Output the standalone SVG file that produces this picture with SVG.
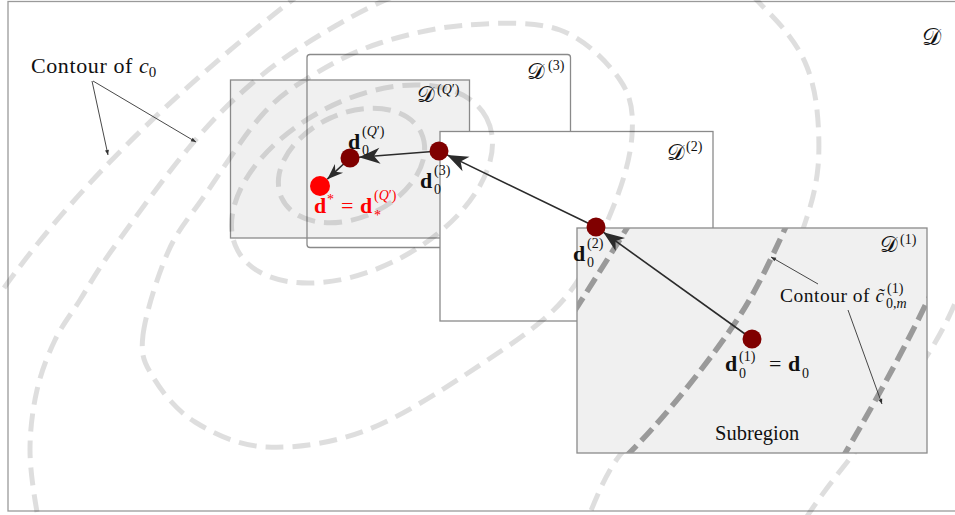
<svg xmlns="http://www.w3.org/2000/svg" width="955" height="515" viewBox="0 0 955 515">
  <defs>
    <style>
      .ctr{fill:none;stroke:#000;stroke-opacity:0.13;stroke-width:5;stroke-dasharray:18 9}
      .ctrd{fill:none;stroke:#9a9a9a;stroke-width:5.5;stroke-dasharray:16 7}
      .box{stroke:#8a8a8a;stroke-width:1.3}
      .tx{font-family:"Liberation Serif","DejaVu Serif",serif;fill:#111}
      .cal{font-family:"DejaVu Serif","Noto Sans","DejaVu Sans",serif;fill:#111}
      .bd{font-weight:bold}
      .lead{fill:none;stroke:#333;stroke-width:0.9}
      .arr{fill:none;stroke:#2b2b2b;stroke-width:1.6}
      .pt{fill:#800000}
      .red{fill:#ff0000}
    </style>
    <marker id="stealth" markerUnits="userSpaceOnUse" markerWidth="26" markerHeight="20" viewBox="-24 -10 26 20" refX="0" refY="0" orient="auto">
      <path d="M0,0 L-21,-8 L-15,0 L-21,8 Z" fill="#2b2b2b"/>
    </marker>
    <marker id="stealth-s" markerUnits="userSpaceOnUse" markerWidth="20" markerHeight="16" viewBox="-18 -8 20 16" refX="0" refY="0" orient="auto">
      <path d="M0,0 L-16,-6 L-11,0 L-16,6 Z" fill="#2b2b2b"/>
    </marker>
    <marker id="tip" markerUnits="userSpaceOnUse" markerWidth="8" markerHeight="6" viewBox="-6 -3 8 6" refX="0" refY="0" orient="auto">
      <path d="M0,0 L-5,-2 L-5,2 Z" fill="#333"/>
    </marker>
    <clipPath id="clip-d1"><rect x="577" y="228" width="350" height="225"/></clipPath>
  </defs>

  <!-- outer domain -->
  <g id="domain">
    <rect x="8" y="1.5" width="960" height="509.5" fill="#fff" stroke="#9a9a9a" stroke-width="1.3"/>
  </g>

  <!-- subregions drawn beneath the level sets -->
  <g id="box-dq">
    <rect class="box" x="230.5" y="80" width="239" height="158" fill="#f0f0f0"/>
  </g>
  <g id="box-d3">
    <rect class="box" x="307" y="54.5" width="263.5" height="193" rx="3" fill="none"/>
  </g>
  <g id="box-d2">
    <rect class="box" x="440" y="131.5" width="273" height="189.5" fill="#fff"/>
  </g>

  <!-- level sets of c0 -->
  <g id="contours-c0">
    <ellipse class="ctr" cx="351.5" cy="165.5" rx="77" ry="52" transform="rotate(-25 351.5 165.5)"/>
    <ellipse class="ctr" cx="362" cy="184" rx="141" ry="83.5" transform="rotate(-28 362 184)"/>
    <path class="ctr" d="M143,335 C145.5,314.2 157.7,275.3 168,252 C178.3,228.7 189.3,217.8 205,195 C220.7,172.2 244,135 262,115 C280,95 293.3,87 313,75 C332.7,63 354.3,51.3 380,43 C405.7,34.7 437,27.2 467,25 C497,22.8 534.5,20.8 560,30 C585.5,39.2 608,62.5 620,80 C632,97.5 633.3,113.3 632,135 C630.7,156.7 623.2,182.8 612,210 C600.8,237.2 587,272.2 565,298 C543,323.8 513,343 480,365 C447,387 402.5,416.3 367,430 C331.5,443.7 295.7,448.3 267,447 C238.3,445.7 214,433.7 195,422 C176,410.3 161.7,391.5 153,377 C144.3,362.5 140.5,355.8 143,335 Z"/>
    <path class="ctr" d="M37,512 C34.5,497.8 30,470.3 30,450 C30,429.7 32.8,408.3 37,390 C41.2,371.7 47.8,355 55,340 C62.2,325 70.5,315 80,300 C89.5,285 94.2,275 112,250 C129.8,225 164,177.5 187,150 C210,122.5 227.8,104.2 250,85 C272.2,65.8 294.2,50.5 320,35 C345.8,19.5 375,3 405,-8"/>
    <path class="ctr" d="M752,-5 C763.2,7.2 777.8,21 787,33 C796.2,45 802,54.2 807,67 C812,79.8 815.2,93.3 817,110 C818.8,126.7 819.7,149.2 818,167 C816.3,184.8 812.5,200.2 807,217 C801.5,233.8 796.7,249.2 785,268 C773.3,286.8 756.2,306.3 737,330 C717.8,353.7 689.5,389.2 670,410 C650.5,430.8 633.7,437.5 620,455 C606.3,472.5 596.3,497.5 588,518"/>
    <path class="ctr" d="M4,288 Q110,140 300,-6"/>
    <path class="ctr" d="M806,518 C850,450 925,380 958,296"/>
  </g>

  <!-- first subregion with the level sets of the local model -->
  <g id="box-d1">
    <rect class="box" x="577" y="228" width="350" height="225" fill="#f0f0f0"/>
    <g clip-path="url(#clip-d1)">
      <path class="ctrd" d="M632,220 Q606,262 572,315"/>
      <path class="ctrd" d="M790,218 C775,250 760,285 737,320 S660,425 620,462"/>
      <path class="ctrd" d="M935,285 Q900,360 840,462"/>
    </g>
  </g>

  <!-- leader lines of the annotations -->
  <g id="leaders">
    <path class="lead" d="M92,81 L108,155" marker-end="url(#tip)"/>
    <path class="lead" d="M93,81 L196,142" marker-end="url(#tip)"/>
    <path class="lead" d="M818,284 L771,257" marker-end="url(#tip)"/>
    <path class="lead" d="M848,310 L882,404" marker-end="url(#tip)"/>
  </g>

  <!-- iterate steps -->
  <g id="connectors">
    <path class="arr" d="M752,339 L603.3,232.2" marker-end="url(#stealth)"/>
    <path class="arr" d="M596,227 L447.1,154.9" marker-end="url(#stealth)"/>
    <path class="arr" d="M439,151 L359,157.3" marker-end="url(#stealth)"/>
    <path class="arr" d="M350,158 L327.3,179.2" marker-end="url(#stealth-s)"/>
  </g>

  <g id="node-d01"><circle class="pt" cx="752" cy="339" r="9.5"/></g>
  <g id="node-d02"><circle class="pt" cx="596" cy="227" r="9.5"/></g>
  <g id="node-d03"><circle class="pt" cx="439" cy="151" r="9.5"/></g>
  <g id="node-d0q"><circle class="pt" cx="350" cy="158" r="9.5"/></g>
  <g id="node-dstar"><circle cx="320" cy="186" r="10" fill="#ff0000"/></g>

  <!-- labels -->
  <g id="labels">
    <text class="tx" x="31" y="73" font-size="22" letter-spacing="0.6">Contour of <tspan font-style="italic" letter-spacing="0">c</tspan><tspan font-size="15" dy="4">0</tspan></text>

    <text class="tx" x="780" y="302" font-size="19.5" letter-spacing="0.5">Contour of <tspan font-style="italic" letter-spacing="0">c&#x303;</tspan></text>
    <text class="tx" x="887" y="293" font-size="14">(1)</text>
    <text class="tx" x="886" y="308" font-size="14">0,<tspan font-style="italic">m</tspan></text>

    <text class="tx" x="715" y="440" font-size="20.5">Subregion</text>

    <text class="cal" x="922" y="45" font-size="24">𝒟</text>
    <text class="cal" x="527" y="79" font-size="22">𝒟</text>
    <text class="tx" x="548" y="70" font-size="14">(3)</text>
    <text class="cal" x="417" y="102" font-size="22">𝒟</text>
    <text class="tx" x="437" y="94" font-size="14">(<tspan font-style="italic">Q</tspan>′)</text>
    <text class="cal" x="667" y="160" font-size="22">𝒟</text>
    <text class="tx" x="686" y="151" font-size="14">(2)</text>
    <text class="cal" x="880" y="252" font-size="22">𝒟</text>
    <text class="tx" x="900" y="244" font-size="14">(1)</text>

    <text class="tx bd" x="725" y="371" font-size="22">d</text>
    <text class="tx" x="739" y="378" font-size="14">0</text>
    <text class="tx" x="739" y="361" font-size="14">(1)</text>
    <text class="tx" x="769" y="371" font-size="22">=</text>
    <text class="tx bd" x="788" y="371" font-size="22">d</text>
    <text class="tx" x="802" y="378" font-size="14">0</text>

    <text class="tx bd" x="573" y="261" font-size="22">d</text>
    <text class="tx" x="587" y="267" font-size="14">0</text>
    <text class="tx" x="587" y="248" font-size="14">(2)</text>

    <text class="tx bd" x="420" y="188" font-size="22">d</text>
    <text class="tx" x="434" y="194" font-size="14">0</text>
    <text class="tx" x="434" y="175" font-size="14">(3)</text>

    <text class="tx bd" x="348" y="149" font-size="22">d</text>
    <text class="tx" x="362" y="155" font-size="14">0</text>
    <text class="tx" x="362" y="136" font-size="14">(<tspan font-style="italic">Q</tspan>′)</text>

    <text class="tx bd red" x="314" y="213" font-size="22">d</text>
    <text class="tx red" x="327" y="204" font-size="14">*</text>
    <text class="tx red" x="341" y="213" font-size="22">=</text>
    <text class="tx bd red" x="360" y="213" font-size="22">d</text>
    <text class="tx red" x="374" y="220" font-size="14">*</text>
    <text class="tx red" x="374" y="200" font-size="14">(<tspan font-style="italic">Q</tspan>′)</text>
  </g>
</svg>
